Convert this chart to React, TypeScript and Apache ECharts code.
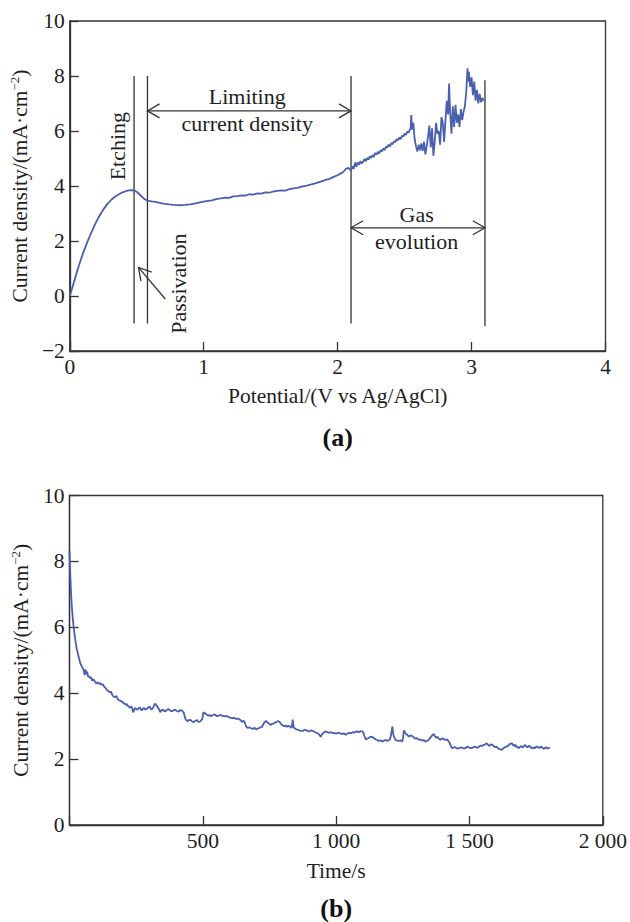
import React, { useEffect, useRef } from "react";
import * as echarts from "echarts";

// ---------- Panel (a): polarization curve, [potential V, current density] ----------
const curveA: [number, number][] = [
  [0.0, 0.0], [0.02, 0.32], [0.04, 0.65], [0.06, 0.98], [0.08, 1.28], [0.1, 1.57], [0.13, 1.95], [0.16, 2.3],
  [0.19, 2.62], [0.22, 2.9], [0.25, 3.14], [0.28, 3.34], [0.31, 3.5], [0.34, 3.62], [0.37, 3.71], [0.4, 3.78],
  [0.43, 3.83], [0.46, 3.85], [0.48, 3.84], [0.5, 3.79], [0.52, 3.7], [0.54, 3.6], [0.56, 3.52], [0.58, 3.47],
  [0.61, 3.44], [0.64, 3.42], [0.67, 3.39], [0.7, 3.36], [0.74, 3.33], [0.78, 3.31], [0.82, 3.3], [0.86, 3.31],
  [0.9, 3.33], [0.94, 3.37], [0.98, 3.41], [1.02, 3.45], [1.06, 3.48], [1.1, 3.53], [1.13, 3.55], [1.16, 3.58],
  [1.19, 3.57], [1.22, 3.62], [1.25, 3.63], [1.28, 3.66], [1.31, 3.65], [1.34, 3.7], [1.37, 3.69], [1.4, 3.73],
  [1.43, 3.72], [1.46, 3.77], [1.49, 3.76], [1.52, 3.8], [1.55, 3.82], [1.58, 3.84], [1.61, 3.83], [1.64, 3.89],
  [1.67, 3.91], [1.7, 3.93], [1.73, 3.98], [1.76, 4.0], [1.79, 4.04], [1.82, 4.08], [1.85, 4.12], [1.88, 4.17],
  [1.91, 4.22], [1.94, 4.26], [1.97, 4.33], [2.0, 4.39], [2.02, 4.45], [2.04, 4.5], [2.06, 4.62], [2.08, 4.66],
  [2.1, 4.56], [2.11, 4.72], [2.12, 4.62], [2.13, 4.85], [2.14, 4.7], [2.15, 4.86], [2.16, 4.78], [2.17, 4.9],
  [2.18, 4.82], [2.19, 4.88], [2.2, 4.98], [2.21, 4.9], [2.22, 5.02], [2.23, 4.96], [2.24, 5.08], [2.25, 5.02],
  [2.26, 5.12], [2.27, 5.06], [2.28, 5.2], [2.29, 5.14], [2.3, 5.24], [2.31, 5.18], [2.32, 5.3], [2.33, 5.26],
  [2.34, 5.36], [2.35, 5.3], [2.36, 5.42], [2.37, 5.4], [2.38, 5.5], [2.39, 5.44], [2.4, 5.56], [2.41, 5.52],
  [2.42, 5.62], [2.43, 5.6], [2.44, 5.7], [2.45, 5.66], [2.46, 5.76], [2.47, 5.7], [2.48, 5.82], [2.49, 5.8],
  [2.5, 5.9], [2.51, 5.86], [2.52, 5.98], [2.53, 5.94], [2.54, 6.06], [2.545, 6.1], [2.55, 6.58], [2.555, 6.05],
  [2.565, 6.3], [2.575, 5.7], [2.585, 5.45], [2.595, 5.25], [2.605, 5.5], [2.615, 5.3], [2.625, 5.55], [2.635, 5.28],
  [2.645, 5.6], [2.655, 5.15], [2.665, 5.45], [2.675, 5.8], [2.685, 6.2], [2.695, 5.4], [2.705, 6.1], [2.715, 5.1],
  [2.725, 5.6], [2.735, 6.3], [2.745, 5.9], [2.755, 6.0], [2.765, 5.5], [2.775, 6.5], [2.785, 6.3], [2.795, 5.6],
  [2.805, 6.4], [2.815, 7.1], [2.825, 6.6], [2.832, 7.73], [2.84, 6.7], [2.85, 5.9], [2.86, 6.9], [2.87, 6.15],
  [2.88, 6.95], [2.89, 6.3], [2.9, 6.6], [2.91, 6.15], [2.92, 6.8], [2.93, 6.4], [2.94, 6.7], [2.95, 6.9],
  [2.96, 7.4], [2.97, 8.28], [2.975, 7.8], [2.98, 8.15], [2.99, 7.6], [3.0, 7.95], [3.01, 7.3], [3.02, 7.8],
  [3.03, 7.1], [3.04, 7.5], [3.05, 7.0], [3.06, 7.35], [3.07, 7.05], [3.08, 7.2], [3.09, 7.1],
];

// Annotations of panel (a), in data coordinates
const regionLines = [
  { x: 0.48, y0: -1.0, y1: 8.0 },
  { x: 0.58, y0: -1.0, y1: 8.0 },
  { x: 2.1, y0: -1.0, y1: 8.0 },
  { x: 3.1, y0: -1.1, y1: 7.85 },
];
const doubleArrows = [
  { x0: 0.58, x1: 2.1, y: 6.73 },
  { x0: 2.1, x1: 3.1, y: 2.48 },
];
const passivationArrow = { from: [0.713, -0.11], to: [0.513, 1.04] };
const annotationTexts = [
  { text: "Etching", x: 0.354, y: 5.45, vertical: true },
  { text: "Passivation", x: 0.81, y: 0.45, vertical: true },
  { text: "Limiting", x: 1.325, y: 7.24, vertical: false },
  { text: "current density", x: 1.325, y: 6.29, vertical: false },
  { text: "Gas", x: 2.59, y: 2.98, vertical: false },
  { text: "evolution", x: 2.59, y: 2.0, vertical: false },
];

// ---------- Panel (b): chronoamperometry, [time s, current density] ----------
const curveB: [number, number][] = [
  [0, 8.3], [3, 7.6], [6, 7.0], [9, 6.6], [13, 6.2], [17, 5.9], [22, 5.6], [27, 5.35], [33, 5.15], [40, 4.92],
  [47, 4.8], [53, 4.7], [57, 4.55], [60, 4.72], [63, 4.58], [66, 4.65], [70, 4.5], [74, 4.52], [78, 4.45], [82, 4.48],
  [85, 4.38], [89, 4.42], [92, 4.4], [96, 4.34], [100, 4.3], [105, 4.33], [110, 4.28], [115, 4.31], [120, 4.26],
  [125, 4.27], [130, 4.2], [135, 4.16], [140, 4.1], [146, 4.06], [152, 4.02], [156, 4.05], [160, 3.95], [165, 3.9],
  [170, 3.88], [176, 3.92], [180, 3.84], [183, 3.8], [188, 3.78], [192, 3.75], [196, 3.76], [200, 3.72], [205, 3.69],
  [210, 3.65], [214, 3.67], [218, 3.62], [222, 3.6], [226, 3.56], [232, 3.6], [236, 3.52], [239, 3.42], [243, 3.5],
  [246, 3.55], [250, 3.52], [255, 3.5], [260, 3.55], [265, 3.56], [268, 3.5], [272, 3.48], [276, 3.54], [280, 3.55],
  [285, 3.5], [290, 3.52], [295, 3.57], [300, 3.6], [304, 3.54], [308, 3.5], [312, 3.55], [315, 3.58], [318, 3.65],
  [322, 3.68], [325, 3.64], [328, 3.62], [332, 3.56], [335, 3.52], [338, 3.47], [340, 3.42], [345, 3.48], [350, 3.5],
  [355, 3.46], [360, 3.45], [366, 3.5], [372, 3.52], [378, 3.47], [384, 3.45], [390, 3.48], [396, 3.5], [403, 3.46],
  [410, 3.44], [415, 3.49], [420, 3.48], [424, 3.45], [428, 3.42], [432, 3.3], [435, 3.22], [438, 3.18], [442, 3.15],
  [448, 3.19], [455, 3.18], [460, 3.14], [465, 3.12], [471, 3.16], [478, 3.18], [484, 3.13], [490, 3.14], [494, 3.18],
  [497, 3.2], [500, 3.3], [502, 3.42], [506, 3.4], [510, 3.38], [515, 3.35], [520, 3.32], [525, 3.34], [530, 3.3],
  [537, 3.33], [545, 3.36], [550, 3.32], [555, 3.3], [562, 3.33], [568, 3.34], [574, 3.31], [580, 3.3], [587, 3.31],
  [595, 3.28], [602, 3.26], [610, 3.24], [617, 3.25], [625, 3.22], [632, 3.23], [638, 3.2], [643, 3.17], [648, 3.12],
  [652, 3.16], [656, 3.14], [660, 3.05], [663, 2.98], [668, 2.95], [675, 2.96], [682, 2.93], [690, 2.92], [695, 2.95],
  [700, 2.9], [706, 2.93], [712, 2.94], [717, 2.97], [722, 2.98], [726, 3.05], [730, 3.1], [733, 3.13], [737, 3.16],
  [741, 3.12], [745, 3.1], [750, 3.06], [755, 3.04], [760, 3.07], [765, 3.08], [770, 3.11], [775, 3.12], [781, 3.15],
  [787, 3.14], [791, 3.09], [795, 3.05], [800, 3.02], [805, 3.0], [810, 3.02], [815, 2.98], [820, 3.01], [825, 3.0],
  [829, 2.97], [833, 2.95], [835, 3.05], [837, 3.2], [839, 3.05], [842, 2.95], [847, 2.92], [852, 2.9], [857, 2.89],
  [862, 2.87], [868, 2.86], [875, 2.85], [881, 2.89], [888, 2.88], [893, 2.85], [899, 2.84], [905, 2.87], [912, 2.86],
  [918, 2.83], [925, 2.8], [931, 2.78], [937, 2.74], [940, 2.7], [943, 2.68], [946, 2.74], [950, 2.78], [956, 2.82],
  [962, 2.84], [968, 2.81], [975, 2.8], [981, 2.82], [987, 2.78], [993, 2.8], [999, 2.77], [1004, 2.79], [1010, 2.8],
  [1016, 2.78], [1022, 2.76], [1029, 2.78], [1036, 2.74], [1043, 2.78], [1050, 2.8], [1056, 2.78], [1062, 2.82],
  [1068, 2.8], [1074, 2.84], [1080, 2.83], [1086, 2.82], [1092, 2.85], [1098, 2.84], [1102, 2.8], [1106, 2.7],
  [1111, 2.6], [1116, 2.62], [1122, 2.64], [1129, 2.68], [1136, 2.67], [1142, 2.63], [1148, 2.6], [1154, 2.58],
  [1160, 2.55], [1166, 2.57], [1173, 2.53], [1179, 2.56], [1186, 2.58], [1192, 2.55], [1198, 2.58], [1202, 2.6],
  [1205, 2.7], [1208, 2.85], [1211, 2.99], [1213, 2.82], [1216, 2.7], [1220, 2.62], [1223, 2.58], [1229, 2.56],
  [1235, 2.55], [1241, 2.57], [1248, 2.53], [1251, 2.65], [1254, 2.87], [1257, 2.82], [1260, 2.78], [1266, 2.74],
  [1273, 2.68], [1279, 2.72], [1285, 2.7], [1291, 2.66], [1297, 2.62], [1303, 2.64], [1310, 2.58], [1316, 2.6],
  [1322, 2.56], [1328, 2.58], [1335, 2.53], [1341, 2.55], [1348, 2.6], [1354, 2.66], [1360, 2.72], [1366, 2.76],
  [1370, 2.7], [1375, 2.65], [1380, 2.68], [1385, 2.62], [1391, 2.58], [1396, 2.63], [1400, 2.62], [1405, 2.6],
  [1410, 2.58], [1416, 2.6], [1420, 2.56], [1425, 2.5], [1430, 2.4], [1434, 2.33], [1440, 2.35], [1446, 2.36],
  [1452, 2.33], [1459, 2.32], [1465, 2.35], [1472, 2.35], [1478, 2.32], [1484, 2.33], [1490, 2.37], [1497, 2.36],
  [1503, 2.33], [1510, 2.34], [1516, 2.37], [1522, 2.38], [1528, 2.34], [1534, 2.36], [1540, 2.41], [1547, 2.4],
  [1552, 2.43], [1558, 2.44], [1565, 2.48], [1570, 2.43], [1575, 2.4], [1580, 2.45], [1585, 2.44], [1591, 2.39],
  [1597, 2.36], [1602, 2.38], [1608, 2.32], [1614, 2.3], [1621, 2.28], [1627, 2.33], [1633, 2.36], [1639, 2.38],
  [1645, 2.4], [1652, 2.46], [1659, 2.48], [1663, 2.43], [1668, 2.4], [1672, 2.44], [1676, 2.36], [1680, 2.38],
  [1684, 2.33], [1690, 2.37], [1695, 2.4], [1699, 2.35], [1703, 2.38], [1709, 2.43], [1713, 2.38], [1718, 2.36],
  [1723, 2.4], [1728, 2.38], [1732, 2.34], [1737, 2.32], [1741, 2.36], [1746, 2.33], [1750, 2.37], [1755, 2.38],
  [1760, 2.34], [1764, 2.35], [1768, 2.39], [1771, 2.36], [1776, 2.33], [1780, 2.31], [1784, 2.35], [1788, 2.36],
  [1792, 2.32], [1796, 2.33], [1802, 2.35],
];

// ---------- Axis ticks ----------
const xTicksA = { min: 0, max: 4, interval: 1 };
const yTicksA = { min: -2, max: 10, interval: 2 };
const xTicksB = { min: 0, max: 2000, interval: 500 };
const yTicksB = { min: 0, max: 10, interval: 2 };

const FONT = "'Liberation Serif', 'Times New Roman', Times, serif";
const TEXT = "#1e1e1e";
const AXIS = "#333333";
const LINE = "#4a5fae";

const yName = "{a|Current density/(mA·cm}{s|\u22122}{a|)}";
const yNameStyle = {
  color: TEXT,
  fontFamily: FONT,
  fontSize: 21.5,
  rich: {
    a: { fontFamily: FONT, fontSize: 21.5, color: TEXT, lineHeight: 24 },
    s: { fontFamily: FONT, fontSize: 13, color: TEXT, verticalAlign: "top", lineHeight: 10 },
  },
};

const fmtNum = (v: number) => {
  if (v < 0) return "\u2212" + String(-v);
  if (v >= 1000) return Math.floor(v / 1000) + " " + String(v % 1000).padStart(3, "0");
  return String(v);
};

function axisCommon() {
  return {
    axisLine: { show: true, onZero: false, lineStyle: { color: AXIS, width: 1.3 } },
    axisTick: { show: true, inside: true, length: 9, lineStyle: { color: AXIS, width: 1.3 } },
    splitLine: { show: false },
    axisLabel: { color: TEXT, fontFamily: FONT, fontSize: 21.5, margin: 5 },
  };
}

export default function App() {
  const ref = useRef<HTMLDivElement>(null);

  useEffect(() => {
    if (!ref.current) return;
    const chart = echarts.init(ref.current, null, { renderer: "svg" });

    const option: any = {
      animation: false,
      backgroundColor: "#ffffff",
      textStyle: { fontFamily: FONT },
      grid: [
        { left: 69.5, top: 21, width: 536, height: 330, show: true, borderColor: AXIS, borderWidth: 1.3 },
        { left: 69.5, top: 495.5, width: 535, height: 329.5, show: true, borderColor: AXIS, borderWidth: 1.3 },
      ],
      xAxis: [
        {
          type: "value",
          gridIndex: 0,
          ...xTicksA,
          ...axisCommon(),
          axisLabel: { ...axisCommon().axisLabel, formatter: fmtNum },
          name: "Potential/(V vs Ag/AgCl)",
          nameLocation: "middle",
          nameGap: 34,
          nameTextStyle: { color: TEXT, fontFamily: FONT, fontSize: 21.5 },
        },
        {
          type: "value",
          gridIndex: 1,
          ...xTicksB,
          ...axisCommon(),
          axisLabel: {
            ...axisCommon().axisLabel,
            formatter: (v: number) => (v === 0 ? "" : fmtNum(v)),
          },
          name: "Time/s",
          nameLocation: "middle",
          nameGap: 35,
          nameTextStyle: { color: TEXT, fontFamily: FONT, fontSize: 21.5 },
        },
      ],
      yAxis: [
        {
          type: "value",
          gridIndex: 0,
          ...yTicksA,
          ...axisCommon(),
          axisLabel: { ...axisCommon().axisLabel, formatter: fmtNum },
          name: yName,
          nameLocation: "middle",
          nameGap: 36,
          nameTextStyle: yNameStyle,
        },
        {
          type: "value",
          gridIndex: 1,
          ...yTicksB,
          ...axisCommon(),
          axisLabel: { ...axisCommon().axisLabel, formatter: fmtNum },
          name: yName,
          nameLocation: "middle",
          nameGap: 36,
          nameTextStyle: yNameStyle,
        },
      ],
      series: [
        {
          type: "line",
          xAxisIndex: 0,
          yAxisIndex: 0,
          data: curveA,
          symbol: "none",
          showSymbol: false,
          silent: true,
          lineStyle: { color: LINE, width: 1.8 },
        },
        {
          type: "line",
          xAxisIndex: 1,
          yAxisIndex: 1,
          data: curveB,
          symbol: "none",
          showSymbol: false,
          silent: true,
          lineStyle: { color: LINE, width: 1.8 },
        },
      ],
    };
    chart.setOption(option);

    const px = (p: number[]) => chart.convertToPixel({ gridIndex: 0 }, p) as number[];
    const lineStyle = { stroke: AXIS, lineWidth: 1.3, fill: "none" };
    const g: any[] = [];

    regionLines.forEach((l) => {
      const a = px([l.x, l.y0]);
      const b = px([l.x, l.y1]);
      g.push({ type: "line", shape: { x1: a[0], y1: a[1], x2: b[0], y2: b[1] }, style: lineStyle, silent: true });
    });

    const chevron = (tip: number[], dir: number[]) => {
      const L = 14;
      const ang = Math.PI / 6;
      const rot = (v: number[], t: number) => [v[0] * Math.cos(t) - v[1] * Math.sin(t), v[0] * Math.sin(t) + v[1] * Math.cos(t)];
      const r1 = rot(dir, ang);
      const r2 = rot(dir, -ang);
      g.push({
        type: "polyline",
        shape: {
          points: [
            [tip[0] + r1[0] * L, tip[1] + r1[1] * L],
            [tip[0], tip[1]],
            [tip[0] + r2[0] * L, tip[1] + r2[1] * L],
          ],
        },
        style: lineStyle,
        silent: true,
      });
    };

    doubleArrows.forEach((a) => {
      const p0 = px([a.x0, a.y]);
      const p1 = px([a.x1, a.y]);
      g.push({ type: "line", shape: { x1: p0[0], y1: p0[1], x2: p1[0], y2: p1[1] }, style: lineStyle, silent: true });
      chevron(p0, [1, 0]);
      chevron(p1, [-1, 0]);
    });

    {
      const t = px(passivationArrow.to);
      const f = px(passivationArrow.from);
      g.push({ type: "line", shape: { x1: f[0], y1: f[1], x2: t[0], y2: t[1] }, style: lineStyle, silent: true });
      const dx = f[0] - t[0];
      const dy = f[1] - t[1];
      const len = Math.hypot(dx, dy);
      chevron(t, [dx / len, dy / len]);
    }

    annotationTexts.forEach((t) => {
      const p = px([t.x, t.y]);
      g.push({
        type: "text",
        x: p[0],
        y: p[1],
        rotation: t.vertical ? Math.PI / 2 : 0,
        silent: true,
        style: {
          text: t.text,
          fontFamily: FONT,
          fontSize: 22,
          fill: TEXT,
          align: "center",
          verticalAlign: "middle",
        },
      });
    });

    const panelLabel = (text: string, gridIndex: number, yPx: number) => {
      const rect = (chart as any).getModel().getComponent("grid", gridIndex).coordinateSystem.getRect();
      g.push({
        type: "text",
        x: rect.x + rect.width / 2,
        y: yPx,
        silent: true,
        style: {
          text,
          fontFamily: FONT,
          fontSize: 26,
          fontWeight: "bold",
          fill: "#111",
          align: "center",
          verticalAlign: "middle",
        },
      });
    };
    panelLabel("(a)", 0, 437);
    panelLabel("(b)", 1, 908);

    chart.setOption({ graphic: g });

    return () => chart.dispose();
  }, []);

  return (
    <div
      ref={ref}
      style={{ position: "fixed", left: 0, top: 0, width: 630, height: 922, background: "#fff" }}
    />
  );
}
